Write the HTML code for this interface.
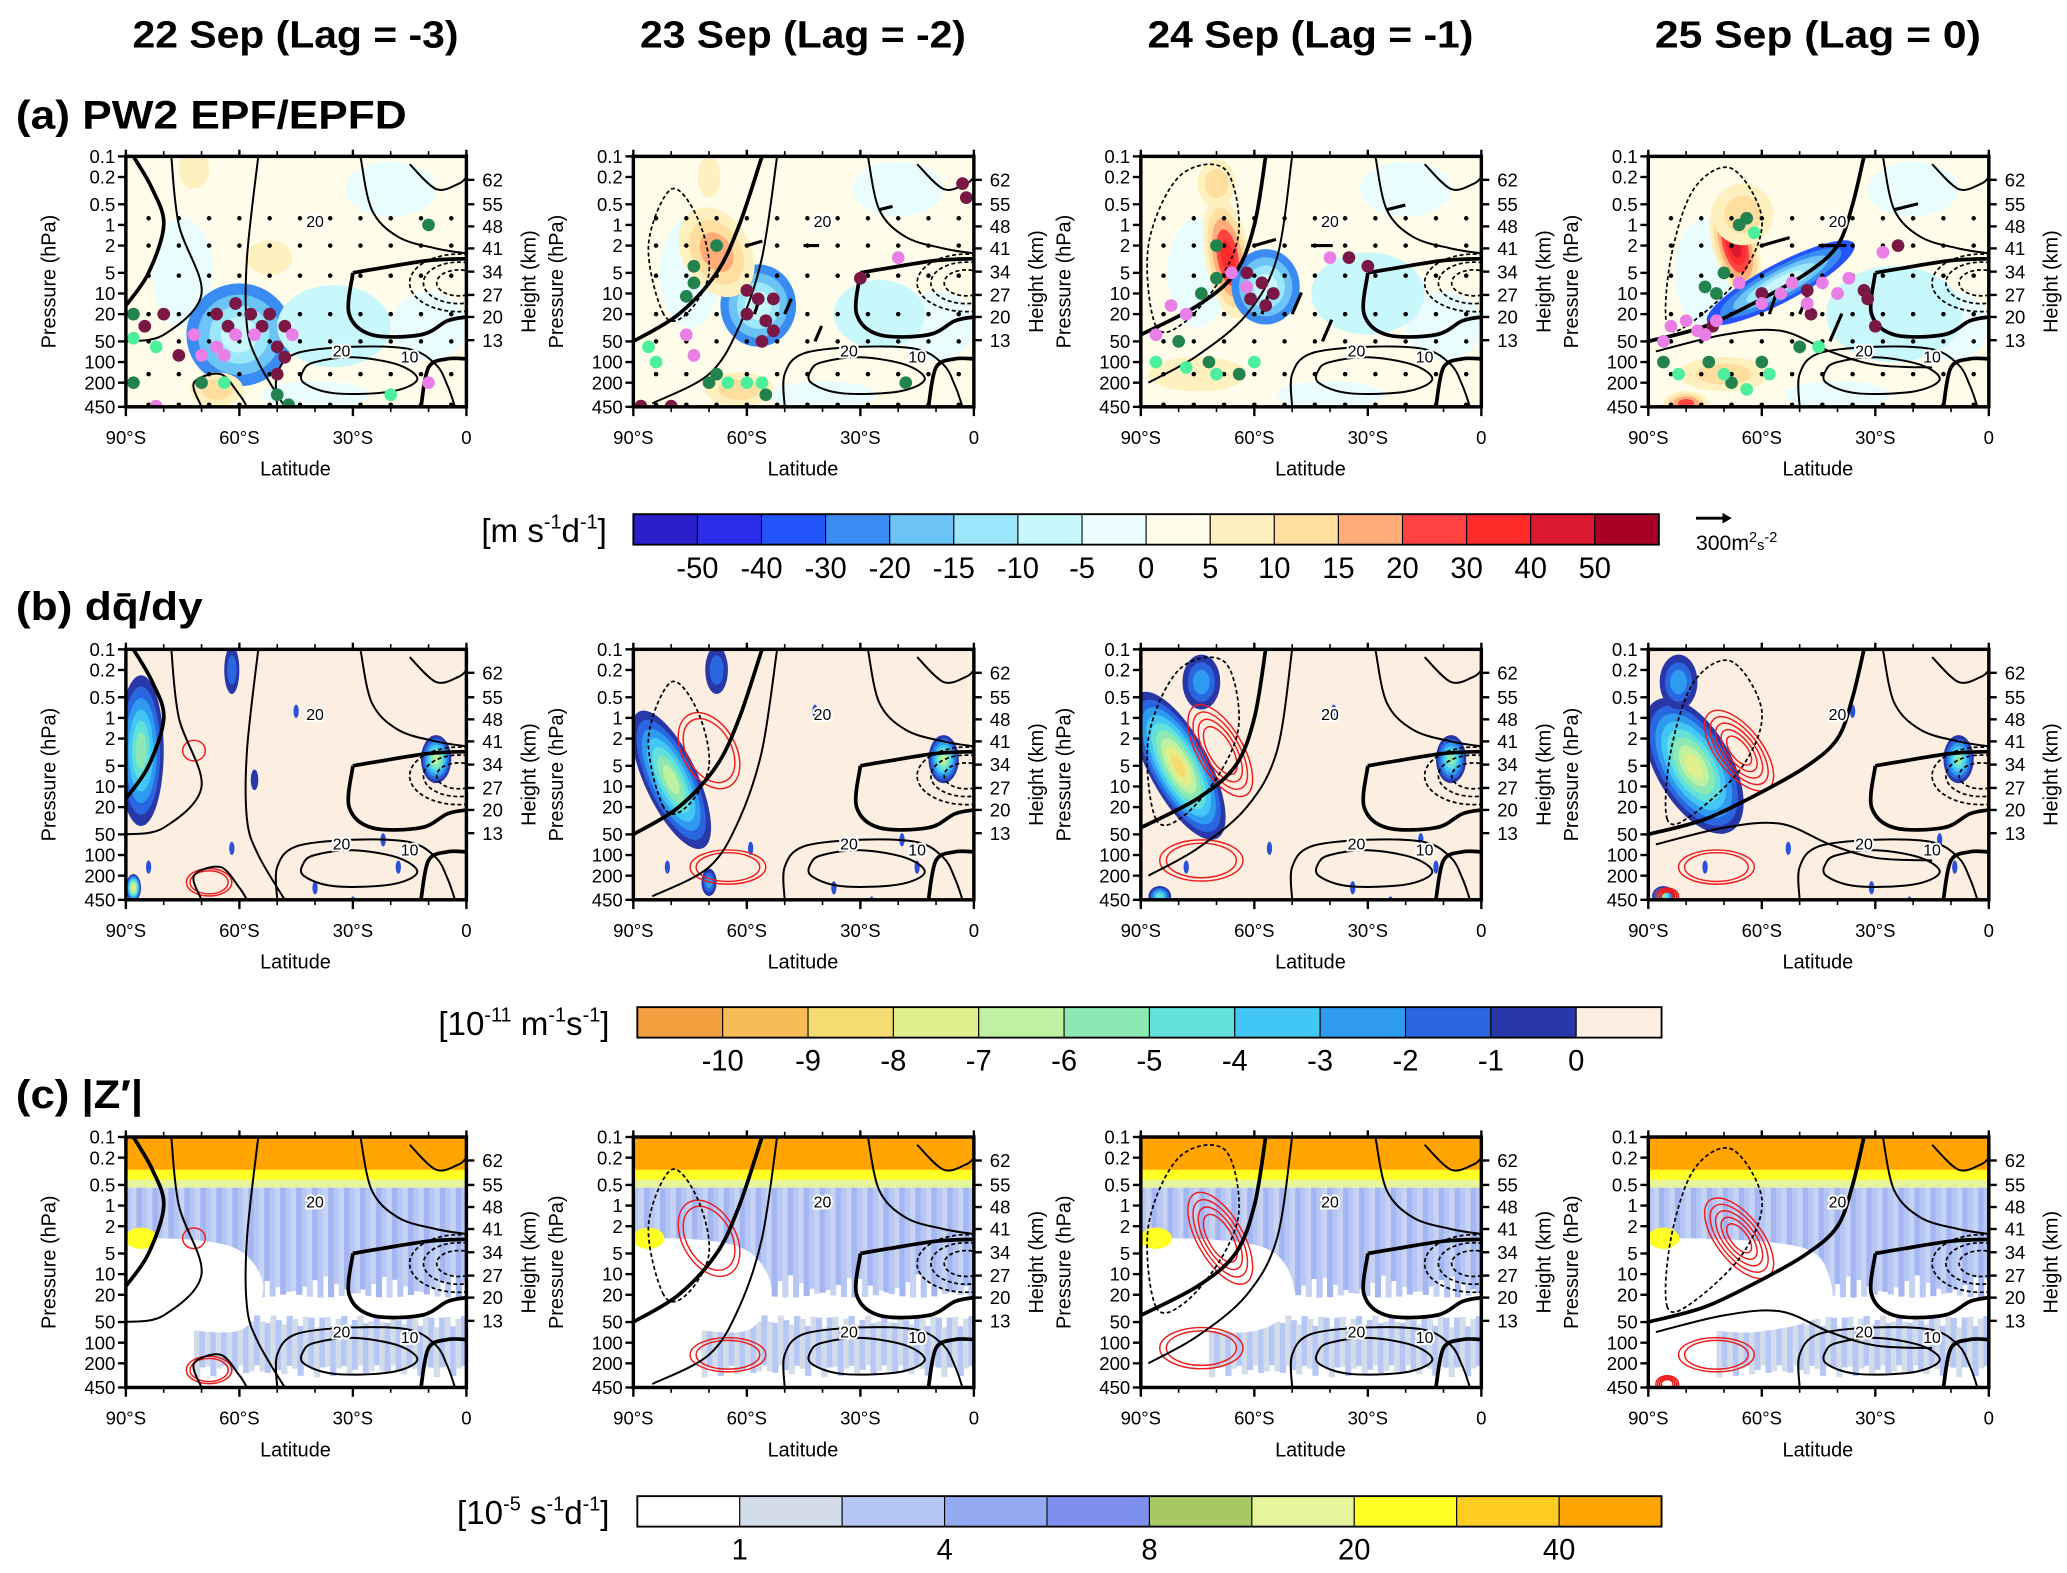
<!DOCTYPE html>
<html><head><meta charset="utf-8"><title>PW2 EPF/EPFD composite</title>
<style>
html,body{margin:0;padding:0;background:#fff;}
svg{display:block;font-family:"Liberation Sans",sans-serif;}
</style></head>
<body>
<svg id="fig" width="2067" height="1573" viewBox="0 0 1560 1187" preserveAspectRatio="none" xmlns="http://www.w3.org/2000/svg"></svg>
<script>
// ---------- data arrays ----------
const columnTitles = ["22 Sep (Lag = -3)","23 Sep (Lag = -2)","24 Sep (Lag = -1)","25 Sep (Lag = 0)"];
const rowTitles = ["(a) PW2 EPF/EPFD","(b) dq̄/dy","(c) |Z′|"];
const pressureTicks = [0.1,0.2,0.5,1,2,5,10,20,50,100,200,450];
const heightTicks = [62,55,48,41,34,27,20,13];
const heightTickP = [0.22,0.5,1.05,2.2,4.8,10.5,22,48];
const latTicks = [-90,-60,-30,0];
const latTickLabels = ["90°S","60°S","30°S","0"];
const cbarALevels = [-50,-40,-30,-20,-15,-10,-5,0,5,10,15,20,30,40,50];
const cbarAColors = ["#2a1fc8","#2a2ee8","#2455fb","#3a8cf2","#6cc3f5","#9ce7fb","#c8f7fc","#ecfeff","#fffde9","#fff0c0","#ffdea0","#ffac78","#ff4242","#ff2a2a","#d8192f","#a80024"];
const cbarBLevels = [-10,-9,-8,-7,-6,-5,-4,-3,-2,-1,0];
const cbarBColors = ["#f5a040","#f7bc58","#f5dc72","#e0ee8c","#bff1a2","#8de9b4","#62e1da","#42c6f5","#2f9bf0","#2a66e0","#2838a8","#fdeee2"];
const cbarCLevels = [1,4,8,20,40];
const cbarCLevelIdx = [1,3,5,7,9];
const cbarCColors = ["#ffffff","#d3dde9","#b6c7f6","#93aaf2","#7f8ff0","#a6c964","#e6f59c","#ffff24","#ffcc22","#ffa400"];

// Row (a) EPFD anomalies: [lat, p, rxDeg, ryDecades, angle, value]
const epfdBlobs = [
 [[-60,40,14,0.75,0,-20],[-66,250,7,0.25,0,10],[-52,3,6,0.25,0,5],[-35,30,15,0.6,0,-5],[-72,0.15,4,0.3,0,5]],
 [[-57,15,10,0.6,0,-25],[-68,2.5,9,0.7,-30,15],[-62,250,9,0.25,0,10],[-25,20,12,0.5,0,-5],[-70,0.2,3,0.3,0,5]],
 [[-67,3,6,0.9,-10,30],[-57,8,9,0.55,0,-20],[-75,150,13,0.25,0,5],[-70,0.25,5,0.35,0,10],[-30,10,15,0.6,0,-5]],
 [[-67,2,6,0.75,-15,40],[-55,7,22,0.28,-28,-30],[-80,400,6,0.18,0,20],[-65,0.7,8,0.45,0,10],[-70,150,12,0.25,0,10],[-25,20,18,0.7,0,-5]]
];
// Row (a) significance markers: [lat, p, kind] kind 0 maroon 1 pink 2 dark green 3 light green
const markers = [
 [[-80,20,0],[-85,30,0],[-61,14,0],[-66,20,0],[-57,20,0],[-52,20,0],[-63,30,0],[-54,30,0],[-48,30,0],[-76,80,0],[-50,60,0],[-48,85,0],[-50,150,0],[-72,40,1],[-66,60,1],[-61,40,1],[-56,40,1],[-70,80,1],[-64,80,1],[-82,440,1],[-46,40,1],[-10,200,1],[-88,20,2],[-88,200,2],[-70,200,2],[-50,300,2],[-47,420,2],[-10,1,2],[-88,45,3],[-82,60,3],[-64,200,3],[-20,300,3]],
 [[-60,9,0],[-57,12,0],[-53,12,0],[-60,20,0],[-55,25,0],[-53,35,0],[-56,50,0],[-3,0.25,0],[-2,0.4,0],[-30,6,0],[-88,440,0],[-80,440,0],[-76,40,1],[-74,80,1],[-20,3,1],[-68,2,2],[-74,4,2],[-74,7,2],[-76,11,2],[-68,150,2],[-70,200,2],[-55,300,2],[-18,200,2],[-86,60,3],[-84,100,3],[-65,200,3],[-60,200,3],[-56,200,3]],
 [[-62,5,0],[-58,7,0],[-55,10,0],[-61,12,0],[-57,15,0],[-35,3,0],[-30,4,0],[-82,15,1],[-78,20,1],[-86,40,1],[-66,5,1],[-62,8,1],[-40,3,1],[-70,2,2],[-70,6,2],[-74,10,2],[-80,50,2],[-72,100,2],[-64,150,2],[-86,100,3],[-78,120,3],[-70,150,3],[-60,100,3]],
 [[-73,30,0],[-60,10,0],[-48,9,0],[-47,20,0],[-33,9,0],[-32,12,0],[-30,30,0],[-24,2,0],[-86,50,1],[-84,30,1],[-80,25,1],[-77,35,1],[-75,40,1],[-72,25,1],[-66,7,1],[-60,14,1],[-55,10,1],[-52,7,1],[-48,14,1],[-44,7,1],[-40,10,1],[-37,6,1],[-28,2.5,1],[-66,1,2],[-64,0.8,2],[-70,5,2],[-75,8,2],[-72,10,2],[-86,100,2],[-74,100,2],[-68,200,2],[-60,100,2],[-50,60,2],[-82,150,3],[-70,150,3],[-64,250,3],[-58,150,3],[-45,60,3],[-62,1.3,3]]
];
// Row (b) negative PV gradient regions: [lat, p, rxDeg, ryDec, angle, value]
const pvgBlobs = [
 [[-86,3,6,1.1,0,-6],[-8,4,4,0.35,0,-7],[-62,0.2,2,0.35,0,-2],[-88,300,2,0.2,0,-9],[-56,8,1,0.15,0,-1]],
 [[-80,8,7,1.1,-25,-7],[-8,4,4,0.35,0,-7],[-68,0.2,3,0.35,0,-2],[-70,250,2,0.2,0,-3]],
 [[-80,5,8,1.2,-28,-9],[-8,4,4,0.35,0,-6],[-74,0.3,5,0.4,0,-3],[-85,400,3,0.15,0,-5]],
 [[-78,5,10,1.1,-30,-8],[-8,4,4,0.35,0,-6],[-82,0.3,5,0.4,0,-3],[-86,400,3,0.15,0,-6]]
];
// Red wave-activity contours centres: [lat, p, rxDeg, ryDec, angle, rings]
const redRings = [
 [[-68,250,6,0.2,0,2],[-72,3,3,0.15,0,1]],
 [[-70,3,7,0.6,-30,2],[-65,150,10,0.25,0,2]],
 [[-69,3,6,0.75,-30,4],[-74,120,11,0.3,0,2]],
 [[-66,3,6,0.7,-38,5],[-72,150,10,0.25,0,2],[-85,400,3,0.12,0,4]]
];

// ---------- layout ----------
const svg = document.getElementById('fig');
const NS = 'http://www.w3.org/2000/svg';
const colX = [95,478,861,1244], rowY = [118,490,858], PW = 257, PH = 189;
const LOGSPAN = Math.log10(450) + 1;
function xOf(c, lat){ return colX[c] + (lat + 90) / 90 * PW; }
function yOf(r, p){ return rowY[r] + (Math.log10(p) + 1) / LOGSPAN * PH; }
function el(tag, attrs, parent){ const e = document.createElementNS(NS, tag); for (const k in attrs) e.setAttribute(k, attrs[k]); (parent || svg).appendChild(e); return e; }
function txt(x, y, s, attrs, parent){ const t = el('text', Object.assign({x:x, y:y}, attrs||{}), parent); t.textContent = s; return t; }
function smooth(pts, closed){
  const n = pts.length; let d = 'M' + pts[0][0].toFixed(1) + ',' + pts[0][1].toFixed(1);
  const get = i => closed ? pts[(i + n) % n] : pts[Math.max(0, Math.min(n - 1, i))];
  const last = closed ? n : n - 1;
  for (let i = 0; i < last; i++){
    const p0 = get(i-1), p1 = get(i), p2 = get(i+1), p3 = get(i+2);
    const c1 = [p1[0] + (p2[0]-p0[0])/6, p1[1] + (p2[1]-p0[1])/6];
    const c2 = [p2[0] - (p3[0]-p1[0])/6, p2[1] - (p3[1]-p1[1])/6];
    d += 'C' + c1.map(v=>v.toFixed(1)).join(',') + ' ' + c2.map(v=>v.toFixed(1)).join(',') + ' ' + p2.map(v=>v.toFixed(1)).join(',');
  }
  return d + (closed ? 'Z' : '');
}
function colorA(v){ let i = 0; while (i < cbarALevels.length && v > cbarALevels[i]) i++; return cbarAColors[Math.min(i, 15)]; }
function colorB(v){ return cbarBColors[Math.max(0, Math.min(11, Math.floor(v) + 11))]; }
function blobNest(c, r, b, colorFn, steps, g){
  const [lat, p, rx, ry, ang, v] = b;
  const cx = xOf(c, lat), cy = yOf(r, p);
  const n = steps.length;
  steps.forEach((sv, i) => {
    const f = 1 - i / (n + 0.6);
    const e = el('ellipse', {cx:cx, cy:cy, rx:rx * PW / 90 * f, ry:ry * PH / LOGSPAN * f, fill:colorFn(sv), transform:'rotate(' + ang + ' ' + cx + ' ' + cy + ')'}, g);
    
    
  });
}

const commonContours = [
  {pts:[[-40,100],[-30,85],[-18,110],[-13,180],[-20,270],[-35,285],[-43,200],[-43,130]], closed:true, w:1.5, dash:false},
  {pts:[[-50,450],[-50,150],[-45,75],[-30,60],[-15,65],[-8,110],[-5,220],[-3,450]], closed:false, w:1.5, dash:false},
  {pts:[[-12,450],[-10,120],[-5,90],[0,90]], closed:false, w:2.8, dash:false},
  {pts:[[-28,0.1],[-25,0.6],[-18,1.5],[-8,2.2],[0,2.6]], closed:false, w:1.5, dash:false},
  {pts:[[-30,5],[-31,20],[-25,40],[-12,40],[-5,25],[0,22]], closed:false, w:2.8, dash:false},
  {pts:[[-30,5],[-22,4.2],[-10,3.3],[0,3.1]], closed:false, w:2.8, dash:false},
  {pts:[[-15,0.13],[-8,0.3],[-2,0.25],[0,0.2]], closed:false, w:1.5, dash:false}
];
const colContours = [
  [{pts:[[-90,15],[-84,5],[-80,1],[-83,0.3],[-88,0.1]], closed:false, w:2.8, dash:false},
   {pts:[[-78,0.1],[-76,1],[-70,10],[-80,40],[-90,50]], closed:false, w:1.5, dash:false},
   {pts:[[-55,0.1],[-58,3],[-58,30],[-55,100],[-48,450]], closed:false, w:1.5, dash:false},
   {pts:[[-70,450],[-72,200],[-65,150],[-60,300],[-58,450]], closed:false, w:1.5, dash:false}],
  [{pts:[[-90,50],[-78,20],[-68,5],[-62,1],[-56,0.1]], closed:false, w:2.8, dash:false},
   {pts:[[-82,20],[-86,2],[-80,0.3],[-73,0.8],[-70,5],[-76,20]], closed:true, w:1.3, dash:true},
   {pts:[[-52,0.1],[-56,3],[-62,30],[-70,150],[-85,400]], closed:false, w:1.5, dash:false}],
  [{pts:[[-90,40],[-75,15],[-65,5],[-60,1],[-57,0.1]], closed:false, w:2.8, dash:false},
   {pts:[[-86,30],[-88,2],[-80,0.2],[-68,0.15],[-64,1],[-68,5],[-78,25]], closed:true, w:1.3, dash:true},
   {pts:[[-50,0.1],[-54,3],[-62,20],[-75,80],[-88,200]], closed:false, w:1.5, dash:false}],
  [{pts:[[-90,50],[-75,30],[-60,12],[-48,5],[-40,2],[-36,0.5],[-33,0.1]], closed:false, w:2.8, dash:false},
   {pts:[[-85,30],[-84,3],[-78,0.3],[-68,0.15],[-60,0.8],[-65,5],[-78,25]], closed:true, w:1.3, dash:true},
   {pts:[[-88,70],[-70,40],[-55,35],[-42,70],[-30,110],[-15,120]], closed:false, w:1.5, dash:false}]
];

// ---------- titles ----------
columnTitles.forEach((s, c) => {
  const t = txt(colX[c] + 128, 36, s, {'font-size':29, 'font-weight':'bold', 'text-anchor':'middle', textLength:246, lengthAdjust:'spacingAndGlyphs'});
  
  
});
const rowTitleLen = [295, 141, 96];
[[12,97],[12,468],[12,836]].forEach((pos, r) => {
  const t = txt(pos[0], pos[1], rowTitles[r], {'font-size':30, 'font-weight':'bold', textLength:rowTitleLen[r], lengthAdjust:'spacingAndGlyphs'});
  
  
});

// ---------- panels ----------
for (let r = 0; r < 3; r++){
  for (let c = 0; c < 4; c++){
    const g = el('g', {});
    
    
    const clipId = 'clip' + r + c;
    const cp = el('clipPath', {id:clipId}, g);
    el('rect', {x:colX[c], y:rowY[r], width:PW, height:PH}, cp);
    const plot = el('g', {'clip-path':'url(#' + clipId + ')'}, g);
    if (r === 0){
      el('rect', {x:colX[c], y:rowY[r], width:PW, height:PH, fill:'#fffde9'}, plot);
      [[-75,5,8,0.8],[-20,0.3,12,0.4],[-10,30,10,0.5],[-40,300,14,0.2]].forEach(b => {
        el('ellipse', {cx:xOf(c,b[0]), cy:yOf(r,b[1]), rx:b[2]*PW/90, ry:b[3]*PH/LOGSPAN, fill:'#e9fdff'}, plot);
      });
      epfdBlobs[c].forEach(b => {
        const v = b[5]; const steps = [];
        cbarALevels.forEach(l => { if (v < 0 && l < 0 && l >= v) steps.unshift(l); if (v > 0 && l > 0 && l <= v) steps.push(l); });
        const ordered = v < 0 ? steps.slice().reverse() : steps;
        blobNest(c, r, b, lv => colorA(lv < 0 ? lv - 0.1 : lv + 0.1), ordered.length ? ordered : [v], plot);
      });
    } else if (r === 1){
      el('rect', {x:colX[c], y:rowY[r], width:PW, height:PH, fill:'#fdeee2'}, plot);
      pvgBlobs[c].forEach(b => {
        const v = b[5]; const steps = [];
        for (let l = -0.5; l >= v; l -= 1) steps.push(l);
        blobNest(c, r, b, colorB, steps.length ? steps : [v], plot);
      });
      [[-62,80],[-30,500],[-45,0.8],[-22,60],[-18,150],[-40,300],[-84,150]].forEach(s => {
        el('ellipse', {cx:xOf(c,s[0]+c*3), cy:yOf(r,s[1]), rx:2, ry:5, fill:'#2a52d8'}, plot);
      });
    } else {
      el('rect', {x:colX[c], y:rowY[r], width:PW, height:PH, fill:'#ffffff'}, plot);
      for (let i = 0; i < 64; i++){
        const lat = -90 + i * 90 / 64;
        const depth = 10 + 12 * Math.abs(Math.sin(i * 1.7 + c));
        const x = xOf(c, lat);
        el('rect', {x:x, y:yOf(r,0.4), width:PW/64 + 0.6, height:yOf(r,depth) - yOf(r,0.4), fill: i % 3 === 0 ? '#b6c7f6' : (i % 3 === 1 ? '#c6d3f2' : '#a3b6f2')}, plot);
      }
      for (let i = 0; i < 50; i++){
        const lat = -72 + i * 72 / 50;
        const x = xOf(c, lat);
        el('rect', {x:x, y:yOf(r,60 - 20*Math.abs(Math.sin(i))), width:72/50*PW/90 + 0.6, height:yOf(r,320) - yOf(r,60), fill: i % 2 ? '#b6c7f6' : '#d3dde9'}, plot);
      }
      const holeLat = [-62,-62,-58,-50][c];
      el('path', {d:smooth([[-90,4],[-82,3],[holeLat,4],[holeLat+8,12],[holeLat+6,40],[-62,70],[-80,60],[-90,60]].map(q=>[xOf(c,q[0]),yOf(r,q[1])]), true), fill:'#ffffff'}, plot);
      el('rect', {x:colX[c], y:yOf(r,0.1), width:PW, height:yOf(r,0.55)-yOf(r,0.1), fill:'#e6f59c'}, plot);
      el('rect', {x:colX[c], y:yOf(r,0.1), width:PW, height:yOf(r,0.42)-yOf(r,0.1), fill:'#ffff24'}, plot);
      el('rect', {x:colX[c], y:yOf(r,0.1), width:PW, height:yOf(r,0.3)-yOf(r,0.1), fill:'#ffa400'}, plot);
      el('ellipse', {cx:xOf(c,-86), cy:yOf(r,3), rx:12, ry:8, fill:'#ffff24'}, plot);
    }
    if (r > 0){
      redRings[c].forEach(b => {
        const [lat,p,rx,ry,ang,n] = b;
        const cx = xOf(c,lat), cy = yOf(r,p);
        for (let k = 0; k < n; k++){
          const f = 1 - k * 0.16;
          el('ellipse', {cx:cx, cy:cy, rx:rx*PW/90*f, ry:ry*PH/LOGSPAN*f, fill:'none', stroke:'#ee1c1c', 'stroke-width':1.1, transform:'rotate(' + ang + ' ' + cx + ' ' + cy + ')'}, plot);
        }
      });
    }
    commonContours.concat(colContours[c]).forEach(k => {
      const p = el('path', {d:smooth(k.pts.map(q => [xOf(c,q[0]), yOf(r,q[1])]), k.closed), fill:'none', stroke:'#000', 'stroke-width':k.w, 'stroke-dasharray':k.dash ? '3,2' : 'none'}, plot);
      
      
    });
    [1, 0.72, 0.45].forEach(f => {
      el('ellipse', {cx:xOf(c,-2), cy:yOf(r,7), rx:13*PW/90*f, ry:0.42*PH/LOGSPAN*f, fill:'none', stroke:'#000', 'stroke-width':1.3, 'stroke-dasharray':'3,2'}, plot);
    });
    [[-33,70,'20'],[-15,85,'10'],[-40,0.9,'20']].forEach(L => {
      txt(xOf(c,L[0]), yOf(r,L[1]) + 4, L[2], {'font-size':12, 'text-anchor':'middle', fill:'#000', stroke:'#fff', 'stroke-width':3, 'paint-order':'stroke'}, plot);
    });
    if (r === 0){
      const pp = [0.8,2,5.5,20,50,150,420];
      pp.forEach(p => { for (let lat = -84; lat <= -4; lat += 8){
        el('circle', {cx:xOf(c,lat), cy:yOf(r,p), r:1.7, fill:'#000'}, plot);
      }});
      if (c >= 1){
        [[-60,2,14,-4],[-45,2,14,0],[-25,0.6,12,-3],[-58,20,4,-12],[-50,20,6,-14],[-42,50,6,-14]].forEach(a => {
          const x = xOf(c,a[0]), y = yOf(r,a[1]);
          el('line', {x1:x, y1:y, x2:x + a[2] * (c/3 + 0.5), y2:y + a[3] * (c/3 + 0.5), stroke:'#000', 'stroke-width':2.4}, plot);
        });
      }
      const mcol = ['#7a1845','#e97ee6','#23834e','#4cf09c'];
      markers[c].forEach(m => {
        const d = el('circle', {cx:xOf(c,m[0]), cy:yOf(r,m[1]), r:4.8, fill:mcol[m[2]]}, plot);
        
        
      });
    }
    el('rect', {x:colX[c], y:rowY[r], width:PW, height:PH, fill:'none', stroke:'#000', 'stroke-width':2.6}, g);
    pressureTicks.forEach(p => {
      const y = yOf(r,p);
      el('line', {x1:colX[c]-6, y1:y, x2:colX[c], y2:y, stroke:'#000', 'stroke-width':1.8}, g);
      txt(colX[c]-8, y+5, String(p), {'font-size':14, 'text-anchor':'end'}, g);
    });
    heightTicks.forEach((h, i) => {
      const y = yOf(r,heightTickP[i]);
      el('line', {x1:colX[c]+PW, y1:y, x2:colX[c]+PW+6, y2:y, stroke:'#000', 'stroke-width':1.8}, g);
      txt(colX[c]+PW+12, y+5, String(h), {'font-size':14}, g);
    });
    latTicks.forEach((lat, i) => {
      const x = xOf(c,lat);
      el('line', {x1:x, y1:rowY[r]+PH, x2:x, y2:rowY[r]+PH+7, stroke:'#000', 'stroke-width':1.8}, g);
      el('line', {x1:x, y1:rowY[r]-5, x2:x, y2:rowY[r], stroke:'#000', 'stroke-width':1.8}, g);
      txt(x, rowY[r]+PH+28, latTickLabels[i], {'font-size':14, 'text-anchor':'middle'}, g);
    });
    for (let lat = -80; lat < 0; lat += 10){ if (lat % 30){ const x = xOf(c,lat);
      el('line', {x1:x, y1:rowY[r]+PH, x2:x, y2:rowY[r]+PH+4, stroke:'#000', 'stroke-width':1.2}, g);
      el('line', {x1:x, y1:rowY[r]-4, x2:x, y2:rowY[r], stroke:'#000', 'stroke-width':1.2}, g); } }
    const xl = txt(colX[c]+128, rowY[r]+PH+52, 'Latitude', {'font-size':15, 'text-anchor':'middle'}, g);
    
    
    const yl = txt(0, 0, 'Pressure (hPa)', {'font-size':15, 'text-anchor':'middle', transform:'translate(' + (colX[c]-53) + ',' + (rowY[r]+PH/2) + ') rotate(-90)'}, g);
    
    
    const yr = txt(0, 0, 'Height (km)', {'font-size':15, 'text-anchor':'middle', transform:'translate(' + (colX[c]+PW+52) + ',' + (rowY[r]+PH/2) + ') rotate(-90)'}, g);
    
    
  }
}

// ---------- colorbars ----------
function colorbar(x0, y0, w, h, colors, labels, labelIdx, name){
  const g = el('g', {});
  
  
  const bw = w / colors.length;
  colors.forEach((col, i) => el('rect', {x:x0 + i*bw, y:y0, width:bw, height:h, fill:col, stroke:'#000', 'stroke-width':0.8}, g));
  el('rect', {x:x0, y:y0, width:w, height:h, fill:'none', stroke:'#000', 'stroke-width':1.4}, g);
  labels.forEach((s, i) => txt(x0 + labelIdx[i]*bw, y0 + h + 25, String(s), {'font-size':22, 'text-anchor':'middle'}, g));
  return g;
}
colorbar(478, 388, 774, 23, cbarAColors, cbarALevels, cbarALevels.map((_, i) => i+1), 'colorbar-epfd');
colorbar(481, 760, 773, 23, cbarBColors, cbarBLevels, cbarBLevels.map((_, i) => i+1), 'colorbar-pv-gradient');
colorbar(481, 1129, 773, 23, cbarCColors, cbarCLevels, cbarCLevelIdx, 'colorbar-wave-amplitude');

// parts: [text, isSuperscript]
function unitLabel(xEnd, y, parts, name){
  const t = el('text', {x:xEnd, y:y, 'font-size':25, 'text-anchor':'end'});
  let sup = false;
  parts.forEach(p => {
    const a = {};
    if (p[1] && !sup){ a.dy = -10; }
    if (!p[1] && sup){ a.dy = 10; }
    if (p[1]) a['font-size'] = 15;
    sup = p[1];
    const s = el('tspan', a, t); s.textContent = p[0];
  });
  
  
}
unitLabel(458, 409, [['[m s',0],['-1',1],['d',0],['-1',1],[']',0]], 'colorbar-unit-a');
unitLabel(460, 781, [['[10',0],['-11',1],[' m',0],['-1',1],['s',0],['-1',1],[']',0]], 'colorbar-unit-b');
unitLabel(460, 1150, [['[10',0],['-5',1],[' s',0],['-1',1],['d',0],['-1',1],[']',0]], 'colorbar-unit-c');
el('line', {x1:1280, y1:391, x2:1300, y2:391, stroke:'#000', 'stroke-width':2.2});
el('path', {d:'M1300,387 L1307,391 L1300,395 Z', fill:'#000'});
const rv = el('text', {x:1280, y:415, 'font-size':16});
[['300m',0],['2',-6],['s',6],['-2',-6]].forEach(p => { const s = el('tspan', p[1] ? {'font-size':11, dy:p[1]} : {}, rv); s.textContent = p[0]; });


</script>
</body></html>
